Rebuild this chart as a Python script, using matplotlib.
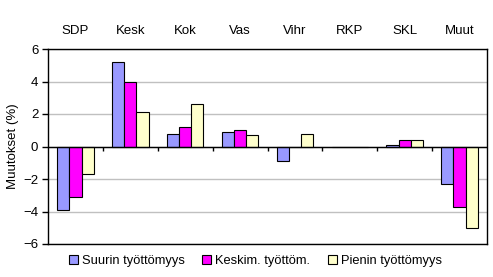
import matplotlib
matplotlib.use("Agg")
import matplotlib.pyplot as plt
import numpy as np

# party changes (%) by unemployment group
parties = ["SDP", "Kesk", "Kok", "Vas", "Vihr", "RKP", "SKL", "Muut"]
suurin = [-3.9, 5.2, 0.8, 0.9, -0.9, 0.0, 0.1, -2.3]
keskim = [-3.1, 4.0, 1.2, 1.0, 0.0, 0.0, 0.4, -3.7]
pienin = [-1.7, 2.1, 2.6, 0.7, 0.8, 0.0, 0.4, -5.0]
series_names = ["Suurin työttömyys", "Keskim. työttöm.", "Pienin työttömyys"]
colors = ["#9999FF", "#FF00FF", "#FFFFCC"]

plt.rcParams["font.family"] = ["Liberation Sans", "DejaVu Sans"]
plt.rcParams["font.size"] = 9.5

fig = plt.figure(figsize=(4.93, 2.77), dpi=100)
ax = fig.add_axes([48 / 493, 1 - 244 / 277, 439 / 493, 195 / 277])

x = np.arange(len(parties))
w = 0.222
for i, (vals, name, c) in enumerate(zip([suurin, keskim, pienin], series_names, colors)):
    ax.bar(x + (i - 1) * w, vals, w, color=c, edgecolor="black", linewidth=0.8,
           label=name, zorder=3)

ax.set_xlim(-0.5, len(parties) - 0.5)
ax.set_ylim(-6, 6)
ax.set_yticks(np.arange(-6, 7, 2))
ax.yaxis.grid(True, color="#C0C0C0", linewidth=1, zorder=0)
ax.axhline(0, color="black", linewidth=1, zorder=4)
# boundary ticks on the zero line
bounds = x[1:] - 0.5
ax.vlines(bounds, -0.3, 0, color="black", linewidth=1, zorder=4)

ax.xaxis.tick_top()
ax.set_xticks(x)
ax.set_xticklabels(parties)
ax.tick_params(axis="x", length=0, pad=9)
ax.tick_params(axis="y", length=4, width=1, pad=3)
for s in ax.spines.values():
    s.set_linewidth(1)

ax.set_ylabel("Muutokset (%)", labelpad=3)

fig.legend(loc="center", bbox_to_anchor=(0.518, 1 - 261 / 277), ncol=3, frameon=False,
           handlelength=0.7, handleheight=0.7, handletextpad=0.3, columnspacing=1.35,
           fontsize=9.3)

fig.savefig("out.png", dpi=100)
